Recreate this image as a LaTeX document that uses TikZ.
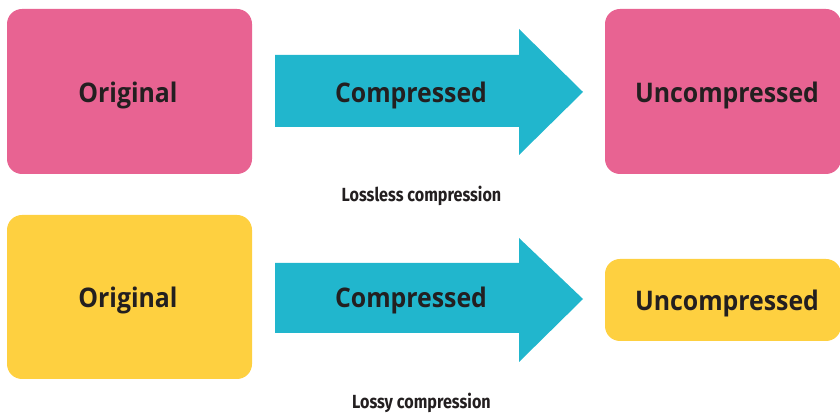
\documentclass[tikz,border=0pt]{standalone}
\usepackage{fontspec}
\setmainfont{Open Sans}
\newfontfamily\lblfont[FakeStretch=0.92]{Open Sans}
\newfontfamily\capfont[FakeStretch=0.85]{Fira Sans}
\usepackage{tikz}
\usetikzlibrary{positioning}
\usepackage{xcolor}
\definecolor{boxpink}{RGB}{232, 99, 146}
\definecolor{boxyellow}{RGB}{254, 208, 64}
\definecolor{arrowcyan}{RGB}{33, 182, 205}
\definecolor{inkdark}{RGB}{35, 31, 32}

\begin{document}
\begin{tikzpicture}[x=1pt, y=1pt,
  box/.style={rounded corners=15pt, inner sep=0pt},
  lbl/.style={font=\lblfont\bfseries\fontsize{27}{30}\selectfont, text=inkdark, anchor=base, inner sep=0pt},
  captext/.style={font=\capfont\bfseries\fontsize{19}{21}\selectfont, text=inkdark, anchor=base, inner sep=0pt}]
  \useasboundingbox (0,0) rectangle (840,414);

  % lossless: original -> compressed -> uncompressed
  \node[box, fill=boxpink, minimum width=245pt, minimum height=165pt] (origA) at (129.5,322.5) {};
  \node[box, fill=boxpink, minimum width=236pt, minimum height=165pt] (uncA) at (723,322.5) {};
  \fill[arrowcyan] (275,287) -- (519,287) -- (519,259) -- (583,322)
    -- (519,385) -- (519,359) -- (275,359) -- cycle;
  \node[lbl] (origAtxt) at (128,311) {Original};
  \node[lbl] (compAtxt) at (411,311) {Compressed};
  \node[lbl] (uncAtxt) at (727,311) {Uncompressed};
  \node[captext] (capA) at (421.5,212) {Lossless compression};

  % lossy: the uncompressed box comes back smaller
  \node[box, fill=boxyellow, minimum width=245pt, minimum height=164pt] (origB) at (129.5,117) {};
  \node[box, fill=boxyellow, minimum width=236pt, minimum height=82pt] (uncB) at (723,114) {};
  \fill[arrowcyan] (275,81) -- (519,81) -- (519,52) -- (583,115)
    -- (519,176) -- (519,151) -- (275,151) -- cycle;
  \node[lbl] (origBtxt) at (128,106) {Original};
  \node[lbl] (compBtxt) at (411,106) {Compressed};
  \node[lbl] (uncBtxt) at (727,103) {Uncompressed};
  \node[captext] (capB) at (421.5,5) {Lossy compression};
\end{tikzpicture}
\end{document}
